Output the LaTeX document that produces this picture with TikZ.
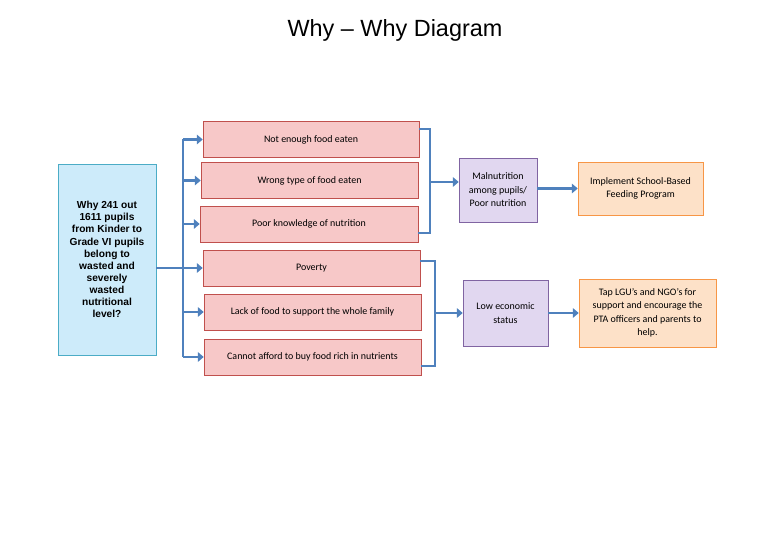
\documentclass[tikz,border=0pt]{standalone}
\usepackage{fontspec}
\setmainfont{Carlito}
\newfontfamily\arialfont{Liberation Sans}
\usetikzlibrary{arrows.meta}
\definecolor{linkblue}{RGB}{79,129,189}
\definecolor{causefill}{RGB}{247,200,200}
\definecolor{causeline}{RGB}{192,80,77}
\definecolor{rootfill}{RGB}{205,235,250}
\definecolor{rootline}{RGB}{75,172,198}
\definecolor{midfill}{RGB}{225,215,240}
\definecolor{midline}{RGB}{128,100,162}
\definecolor{actfill}{RGB}{253,225,200}
\definecolor{actline}{RGB}{247,150,70}
\tikzset{
  cause/.style={draw=causeline,fill=causefill,minimum height=1.07cm,font=\fontsize{8.5}{10}\selectfont},
  midbox/.style={draw=midline,fill=midfill,align=center,font=\fontsize{8.5}{11.5}\selectfont},
  actbox/.style={draw=actline,fill=actfill,align=center,font=\fontsize{8.5}{11.5}\selectfont},
  link/.style={draw=linkblue,line width=2.5pt},
  linkarrow/.style={link,-{Triangle[length=5pt,width=8pt]}}
}
\begin{document}
\begin{tikzpicture}[x=0.03cm,y=-0.03cm]
        \useasboundingbox (0,0) rectangle (768,543);
        \node[font=\arialfont\fontsize{20}{24}\selectfont] (title) at (395,30) {Why – Why Diagram};

        \node[draw=rootline,fill=rootfill,minimum width=2.94cm,minimum height=5.73cm,align=center,
              font=\arialfont\bfseries\fontsize{8.7}{10.3}\selectfont] (root) at (107,259.5)
              {Why 241 out\\1611 pupils\\from Kinder to\\Grade VI pupils\\belong to\\wasted and\\severely\\wasted\\nutritional\\level?};

        \node[cause,minimum width=6.48cm] (c1) at (311,139.5) {Not enough food eaten};
        \node[cause,minimum width=6.51cm] (c2) at (309.5,180.5) {Wrong type of food eaten};
        \node[cause,minimum width=6.54cm] (c3) at (309,224) {Poor knowledge of nutrition};
        \node[cause,minimum width=6.51cm] (c4) at (311.5,268) {Poverty};
        \node[cause,minimum width=6.51cm] (c5) at (312.5,312) {Lack of food to support the whole family};
        \node[cause,minimum width=6.51cm] (c6) at (312.5,357) {Cannot afford to buy food rich in nutrients};

        \node[midbox,minimum width=2.34cm,minimum height=1.92cm] (mal) at (498,190) {Malnutrition\\among pupils/\\Poor nutrition};
        \node[midbox,minimum width=2.55cm,minimum height=1.98cm] (eco) at (505.5,313) {Low economic\\status};
        \node[actbox,minimum width=3.75cm,minimum height=1.59cm] (feed) at (640.5,188.5) {Implement School-Based\\Feeding Program};
        \node[actbox,minimum width=4.11cm,minimum height=2.04cm] (tap) at (647.5,313) {Tap LGU's and NGO's for\\support and encourage the\\PTA officers and parents to\\help.};

        % left tree
        \coordinate (trunkT) at (183,139.5);
        \coordinate (trunkB) at (183,357);
        \draw[link] (root.east |- c4) -- (183,268);
        \draw[link] (trunkT) -- (trunkB);
        \foreach \c in {c1,c2,c3,c4,c5,c6}
          \draw[linkarrow] (trunkT |- \c.west) -- (\c.west);

        % right brackets
        \coordinate (brA) at (430,182);
        \coordinate (brB) at (435,313);
        \draw[link] (c1.east |- 0,129) -- (430,129) -- (430,233) -- (c3.east |- 0,233);
        \draw[linkarrow] (brA) -- (mal.west |- brA);
        \draw[link] (c4.east |- 0,261) -- (435,261) -- (435,366) -- (c6.east |- 0,366);
        \draw[linkarrow] (brB) -- (eco.west |- brB);

        \draw[linkarrow] (mal.east |- feed) -- (feed.west);
        \draw[linkarrow] (eco.east) -- (tap.west);
\end{tikzpicture}
\end{document}
